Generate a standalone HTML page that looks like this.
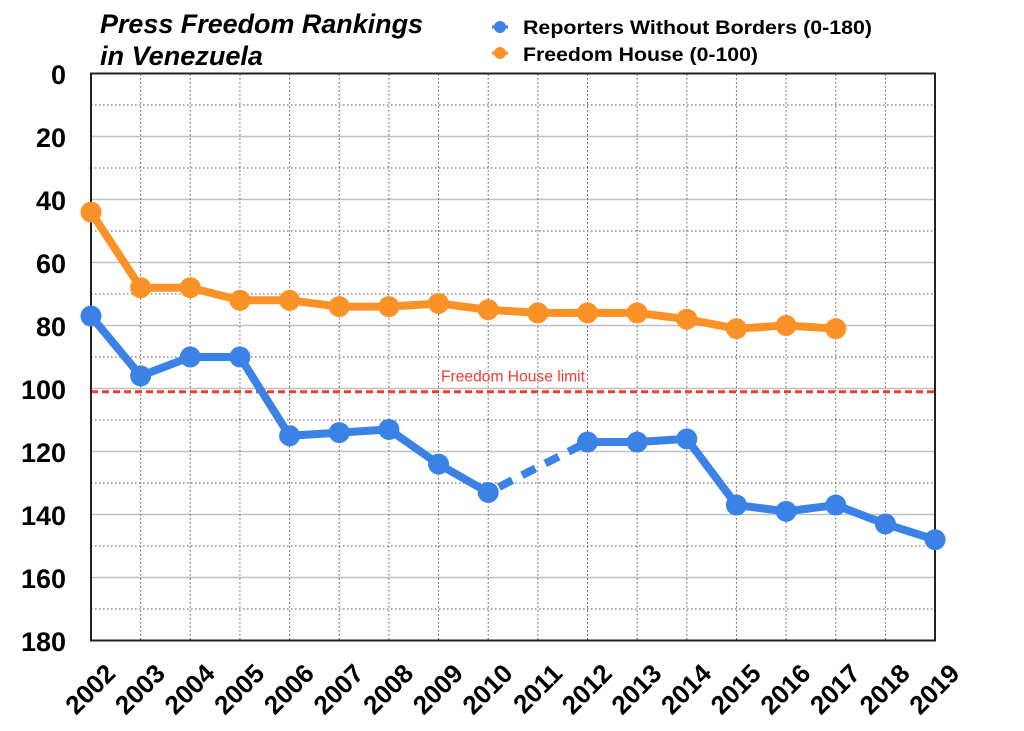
<!DOCTYPE html>
<html>
<head>
<meta charset="utf-8">
<style>
html,body{margin:0;padding:0;background:#fff;}
svg{display:block;font-family:"Liberation Sans",Arial,sans-serif;}
</style>
</head>
<body>
<svg width="1024" height="731" viewBox="0 0 1024 731" xmlns="http://www.w3.org/2000/svg">
<rect width="1024" height="731" fill="#fff"/>
<!-- title -->
<text x="100" y="33" font-size="27" font-weight="bold" font-style="italic" fill="#000" textLength="323" lengthAdjust="spacingAndGlyphs">Press Freedom Rankings</text>
<text x="100" y="65" font-size="27" font-weight="bold" font-style="italic" fill="#000" textLength="163" lengthAdjust="spacingAndGlyphs">in Venezuela</text>
<!-- legend -->
<line x1="492" y1="27" x2="508" y2="27" stroke="#3a82e6" stroke-width="3"/>
<circle cx="500" cy="27" r="6" fill="#3a82e6"/>
<text x="523" y="34" font-size="19" font-weight="bold" fill="#000" textLength="349" lengthAdjust="spacingAndGlyphs">Reporters Without Borders (0-180)</text>
<line x1="492" y1="53" x2="508" y2="53" stroke="#fb9228" stroke-width="3"/>
<circle cx="500" cy="53" r="6" fill="#fb9228"/>
<text x="523" y="61" font-size="19" font-weight="bold" fill="#000" textLength="235" lengthAdjust="spacingAndGlyphs">Freedom House (0-100)</text>

<!-- horizontal solid gridlines -->
<g stroke="#c0c0c0" stroke-width="1.5">
<line x1="91" y1="136.5" x2="935" y2="136.5"/>
<line x1="91" y1="199.5" x2="935" y2="199.5"/>
<line x1="91" y1="262.5" x2="935" y2="262.5"/>
<line x1="91" y1="325.5" x2="935" y2="325.5"/>
<line x1="91" y1="388.5" x2="935" y2="388.5"/>
<line x1="91" y1="451.5" x2="935" y2="451.5"/>
<line x1="91" y1="514.5" x2="935" y2="514.5"/>
<line x1="91" y1="577.5" x2="935" y2="577.5"/>
</g>
<!-- horizontal dotted gridlines -->
<g stroke="#555" stroke-width="1" stroke-dasharray="1.5 2.5">
<line x1="91" y1="105" x2="935" y2="105"/>
<line x1="91" y1="168" x2="935" y2="168"/>
<line x1="91" y1="231" x2="935" y2="231"/>
<line x1="91" y1="294" x2="935" y2="294"/>
<line x1="91" y1="357" x2="935" y2="357"/>
<line x1="91" y1="420" x2="935" y2="420"/>
<line x1="91" y1="483" x2="935" y2="483"/>
<line x1="91" y1="546" x2="935" y2="546"/>
<line x1="91" y1="609" x2="935" y2="609"/>
</g>
<!-- vertical dotted gridlines -->
<g stroke="#555" stroke-width="1" stroke-dasharray="1.5 2.5">
<line x1="140.65" y1="74" x2="140.65" y2="640"/>
<line x1="190.3" y1="74" x2="190.3" y2="640"/>
<line x1="239.95" y1="74" x2="239.95" y2="640"/>
<line x1="289.6" y1="74" x2="289.6" y2="640"/>
<line x1="339.25" y1="74" x2="339.25" y2="640"/>
<line x1="388.9" y1="74" x2="388.9" y2="640"/>
<line x1="438.55" y1="74" x2="438.55" y2="640"/>
<line x1="488.2" y1="74" x2="488.2" y2="640"/>
<line x1="537.85" y1="74" x2="537.85" y2="640"/>
<line x1="587.5" y1="74" x2="587.5" y2="640"/>
<line x1="637.15" y1="74" x2="637.15" y2="640"/>
<line x1="686.8" y1="74" x2="686.8" y2="640"/>
<line x1="736.45" y1="74" x2="736.45" y2="640"/>
<line x1="786.1" y1="74" x2="786.1" y2="640"/>
<line x1="835.75" y1="74" x2="835.75" y2="640"/>
<line x1="885.4" y1="74" x2="885.4" y2="640"/>
</g>

<!-- red limit line -->
<line x1="91" y1="391.7" x2="935" y2="391.7" stroke="#f23a32" stroke-width="3" stroke-dasharray="7 4"/>
<text x="513" y="381.5" font-size="15.5" fill="#f23a32" text-anchor="middle" textLength="144" lengthAdjust="spacingAndGlyphs">Freedom House limit</text>

<!-- plot border -->
<rect x="91" y="73.5" width="844" height="567" fill="none" stroke="#222" stroke-width="2"/>

<!-- Freedom House series -->
<polyline fill="none" stroke="#fb9228" stroke-width="8" stroke-linejoin="round"
points="91,212.1 140.65,287.7 190.3,287.7 239.95,300.3 289.6,300.3 339.25,306.6 388.9,306.6 438.55,303.45 488.2,309.75 537.85,312.9 587.5,312.9 637.15,312.9 686.8,319.2 736.45,328.65 786.1,325.5 835.75,328.65"/>
<g fill="#fb9228">
<circle cx="91" cy="212.1" r="10.5"/>
<circle cx="140.65" cy="287.7" r="10.5"/>
<circle cx="190.3" cy="287.7" r="10.5"/>
<circle cx="239.95" cy="300.3" r="10.5"/>
<circle cx="289.6" cy="300.3" r="10.5"/>
<circle cx="339.25" cy="306.6" r="10.5"/>
<circle cx="388.9" cy="306.6" r="10.5"/>
<circle cx="438.55" cy="303.45" r="10.5"/>
<circle cx="488.2" cy="309.75" r="10.5"/>
<circle cx="537.85" cy="312.9" r="10.5"/>
<circle cx="587.5" cy="312.9" r="10.5"/>
<circle cx="637.15" cy="312.9" r="10.5"/>
<circle cx="686.8" cy="319.2" r="10.5"/>
<circle cx="736.45" cy="328.65" r="10.5"/>
<circle cx="786.1" cy="325.5" r="10.5"/>
<circle cx="835.75" cy="328.65" r="10.5"/>
</g>

<!-- RSF series -->
<polyline fill="none" stroke="#3a82e6" stroke-width="8" stroke-linejoin="round"
points="91,316.05 140.65,375.9 190.3,357 239.95,357 289.6,435.75 339.25,432.6 388.9,429.45 438.55,464.1 488.2,492.45"/>
<line x1="488.2" y1="492.45" x2="587.5" y2="442.05" stroke="#3a82e6" stroke-width="8" stroke-dasharray="0 12 15 11 15 11 15 11 15 11"/>
<polyline fill="none" stroke="#3a82e6" stroke-width="8" stroke-linejoin="round"
points="587.5,442.05 637.15,442.05 686.8,438.9 736.45,505.05 786.1,511.35 835.75,505.05 885.4,523.95 935.05,539.7"/>
<g fill="#3a82e6">
<circle cx="91" cy="316.05" r="10.5"/>
<circle cx="140.65" cy="375.9" r="10.5"/>
<circle cx="190.3" cy="357" r="10.5"/>
<circle cx="239.95" cy="357" r="10.5"/>
<circle cx="289.6" cy="435.75" r="10.5"/>
<circle cx="339.25" cy="432.6" r="10.5"/>
<circle cx="388.9" cy="429.45" r="10.5"/>
<circle cx="438.55" cy="464.1" r="10.5"/>
<circle cx="488.2" cy="492.45" r="10.5"/>
<circle cx="587.5" cy="442.05" r="10.5"/>
<circle cx="637.15" cy="442.05" r="10.5"/>
<circle cx="686.8" cy="438.9" r="10.5"/>
<circle cx="736.45" cy="505.05" r="10.5"/>
<circle cx="786.1" cy="511.35" r="10.5"/>
<circle cx="835.75" cy="505.05" r="10.5"/>
<circle cx="885.4" cy="523.95" r="10.5"/>
<circle cx="935.05" cy="539.7" r="10.5"/>
</g>

<!-- y-axis labels -->
<g font-size="27" font-weight="bold" fill="#000" text-anchor="end">
<text x="66" y="84">0</text>
<text x="66" y="147">20</text>
<text x="66" y="210">40</text>
<text x="66" y="273">60</text>
<text x="66" y="336">80</text>
<text x="66" y="399">100</text>
<text x="66" y="462">120</text>
<text x="66" y="525">140</text>
<text x="66" y="588">160</text>
<text x="66" y="651">180</text>
</g>

<!-- x-axis labels -->
<g font-size="26" font-weight="bold" fill="#000" text-anchor="end">
<text x="117" y="675" transform="rotate(-45 117 675)">2002</text>
<text x="166.65" y="675" transform="rotate(-45 166.65 675)">2003</text>
<text x="216.3" y="675" transform="rotate(-45 216.3 675)">2004</text>
<text x="265.95" y="675" transform="rotate(-45 265.95 675)">2005</text>
<text x="315.6" y="675" transform="rotate(-45 315.6 675)">2006</text>
<text x="365.25" y="675" transform="rotate(-45 365.25 675)">2007</text>
<text x="414.9" y="675" transform="rotate(-45 414.9 675)">2008</text>
<text x="464.55" y="675" transform="rotate(-45 464.55 675)">2009</text>
<text x="514.2" y="675" transform="rotate(-45 514.2 675)">2010</text>
<text x="563.85" y="675" transform="rotate(-45 563.85 675)">2011</text>
<text x="613.5" y="675" transform="rotate(-45 613.5 675)">2012</text>
<text x="663.15" y="675" transform="rotate(-45 663.15 675)">2013</text>
<text x="712.8" y="675" transform="rotate(-45 712.8 675)">2014</text>
<text x="762.45" y="675" transform="rotate(-45 762.45 675)">2015</text>
<text x="812.1" y="675" transform="rotate(-45 812.1 675)">2016</text>
<text x="861.75" y="675" transform="rotate(-45 861.75 675)">2017</text>
<text x="911.4" y="675" transform="rotate(-45 911.4 675)">2018</text>
<text x="961.05" y="675" transform="rotate(-45 961.05 675)">2019</text>
</g>
</svg>
</body>
</html>
